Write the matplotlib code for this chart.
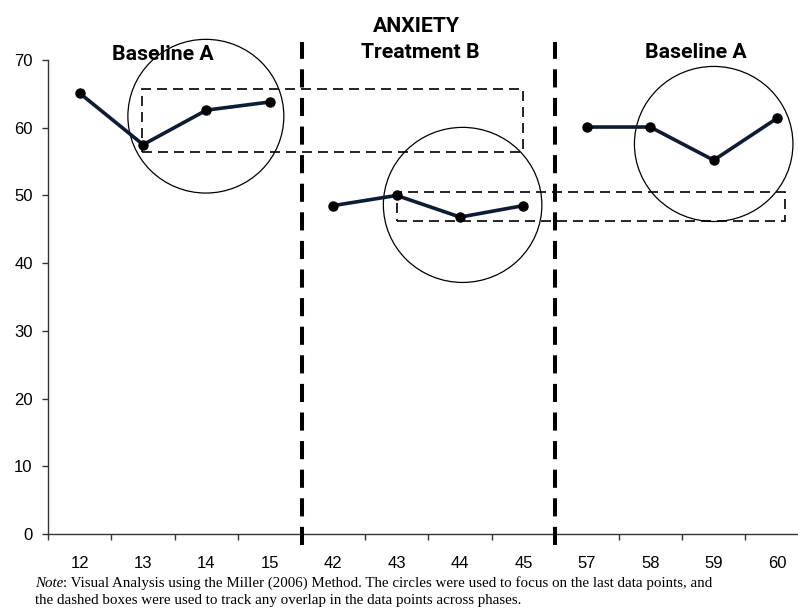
import matplotlib
matplotlib.use("Agg")
import matplotlib.pyplot as plt
from matplotlib.patches import Ellipse, Rectangle

# ---- data ----
sessions = ['12', '13', '14', '15', '42', '43', '44', '45', '57', '58', '59', '60']
baseline1 = [65.1, 57.5, 62.6, 63.8]
treatment = [48.5, 50.0, 46.8, 48.5]
baseline2 = [60.1, 60.1, 55.2, 61.4]
phase_labels = ['Baseline A', 'Treatment B', 'Baseline A']
title = 'ANXIETY'
yticks = [0, 10, 20, 30, 40, 50, 60, 70]
note_italic = 'Note'
note_line1 = (': Visual Analysis using the Miller (2006) Method. The circles were used to focus on the last data points, and')
note_line2 = 'the dashed boxes were used to track any overlap in the data points across phases.'

fig = plt.figure(figsize=(7.98, 6.08), dpi=100)
ax = fig.add_axes([48 / 798, 1 - 534 / 608, 1 - 48 / 798, (534 - 60) / 608])

line_col = '#0d1b33'
phases = [baseline1, treatment, baseline2]
start = 0
for vals in phases:
    xs = list(range(start, start + len(vals)))
    ax.plot(xs, vals, color=line_col, lw=2.6, marker='o', markersize=6.5,
            markerfacecolor='black', markeredgecolor='black', zorder=3,
            solid_capstyle='round')
    start += len(vals)

ax.set_xlim(-0.5, 11.33)
ax.set_ylim(0, 70)
ax.set_yticks(yticks)
ax.set_xticks(range(len(sessions)))
ax.set_xticklabels(sessions)
ax.set_xticks([i - 0.5 for i in range(len(sessions))], minor=True)

for s in ['top', 'right']:
    ax.spines[s].set_visible(False)
for s in ['left', 'bottom']:
    ax.spines[s].set_linewidth(1.0)
    ax.spines[s].set_color('#333333')

ax.tick_params(axis='y', length=4, width=1, pad=7, colors='#333333', labelcolor='black')
ax.tick_params(axis='x', which='major', length=0, pad=16, labelcolor='black')
ax.tick_params(axis='x', which='minor', length=4, width=1, colors='#333333')
for lab in ax.get_xticklabels() + ax.get_yticklabels():
    lab.set_fontfamily('Liberation Sans')
    lab.set_fontsize(12)

# phase change lines
for xb in [3.5, 7.5]:
    ax.axvline(xb, ymin=-0.023, ymax=1.038, color='black', lw=2.9,
               linestyle=(0, (4.5, 2.6)), clip_on=False, zorder=4)

# dashed boxes
box_kw = dict(fill=False, edgecolor='black', lw=1.2, linestyle=(0, (6, 3.6)), zorder=2, clip_on=False)
ax.add_patch(Rectangle((0.98, 56.4), 7.0 - 0.98, 65.7 - 56.4, **box_kw))
ax.add_patch(Rectangle((5.0, 46.2), 11.12 - 5.0, 50.5 - 46.2, **box_kw))

# circles (ellipses in data units so they look round on screen)
circ_kw = dict(fill=False, edgecolor='black', lw=0.9, zorder=2, clip_on=False)
ax.add_patch(Ellipse((1.99, 61.7), 2.46, 22.7, **circ_kw))
ax.add_patch(Ellipse((6.04, 48.6), 2.50, 22.9, **circ_kw))
ax.add_patch(Ellipse((10.0, 57.6), 2.50, 22.9, **circ_kw))

# titles
hfont = dict(family='Roboto', weight='bold', size=15.3, ha='center', va='center')
fig.text(416 / 798, 1 - 26 / 608, title, **hfont)
fig.text(420 / 798, 1 - 52 / 608, phase_labels[1], **hfont)
fig.text(162.5 / 798, 1 - 54.5 / 608, phase_labels[0], **hfont)
fig.text(696 / 798, 1 - 52.5 / 608, phase_labels[2], **hfont)

# note
nsize = 10.8
nx = 35 / 798
t = fig.text(nx, 1 - 587 / 608, note_italic, family='Liberation Serif', style='italic',
             size=nsize, va='baseline')
fig.canvas.draw()
bb = t.get_window_extent()
x2 = bb.x1 / fig.bbox.width
fig.text(x2, 1 - 587 / 608, note_line1, family='Liberation Serif', size=nsize, va='baseline')
fig.text(nx, 1 - 604 / 608, note_line2, family='Liberation Serif', size=nsize, va='baseline')

fig.savefig('out.png', dpi=100)
